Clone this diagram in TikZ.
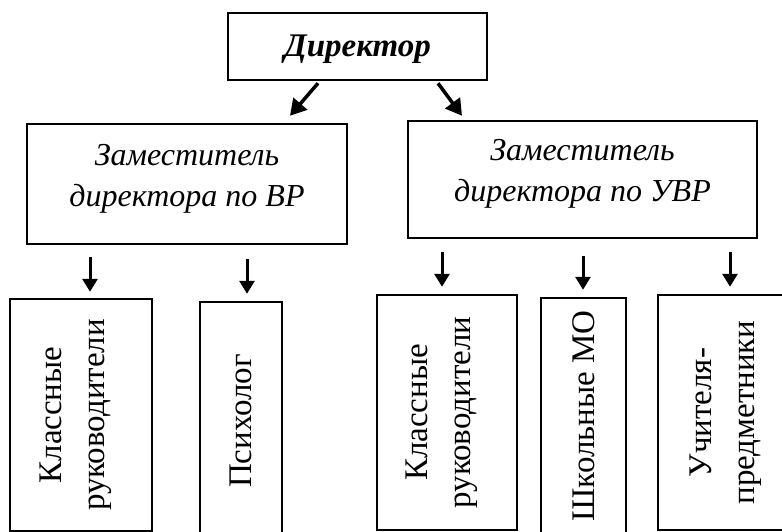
\documentclass[tikz,border=0pt]{standalone}
\usepackage{fontspec}
\setmainfont{Liberation Serif}
\usetikzlibrary{arrows.meta,calc}
\begin{document}
\begin{tikzpicture}[x=1pt,y=-1pt,
  box/.style={draw,line width=2.5pt,inner sep=0pt,align=center},
  dep/.style={box,font=\fontsize{32}{41}\selectfont\itshape},
  sub/.style={box,rotate=90,font=\fontsize{33}{43}\selectfont},
  arr/.style={line width=3pt,-{Triangle[length=13pt,width=15pt]}},
  darr/.style={line width=3.5pt,-{Triangle[length=16pt,width=18pt]}}]
\useasboundingbox (0,0) rectangle (782,532);
\clip (0,0) rectangle (782,532);
\node[box,minimum width=259pt,minimum height=67pt,font=\fontsize{33}{38}\selectfont\bfseries\itshape] (dir) at (357.5,46.5) {\rule{0pt}{28pt}Директор};
\node[dep,minimum width=320pt,minimum height=120pt] (vr) at (187,184) {Заместитель\\директора по ВР\rule[-18pt]{0pt}{18pt}};
\node[dep,minimum width=349pt,minimum height=117pt] (uvr) at (582.5,179.5) {Заместитель\\директора по УВР\rule[-18pt]{0pt}{18pt}};
\node[sub,minimum width=232pt,minimum height=142pt] (b1) at (81,415) {Классные\\руководители\rule[-17pt]{0pt}{17pt}};
\node[sub,minimum width=238pt,minimum height=82pt] (b2) at (241,421) {Психолог};
\node[sub,minimum width=235pt,minimum height=140pt] (b3) at (447,412.5) {Классные\\руководители\rule[-17pt]{0pt}{17pt}};
\node[sub,minimum width=236pt,minimum height=85pt] (b4) at (583.5,416) {Школьные МО};
\node[sub,minimum width=235pt,minimum height=145pt] (b5) at (730.5,412.5) {Учителя-\\предметники\rule[-17pt]{0pt}{17pt}};
\draw[darr] ([xshift=-39.5pt,yshift=-2pt]dir.south) -- ([xshift=103pt,yshift=7pt]vr.north);
\draw[darr] ([xshift=80.5pt,yshift=-2pt]dir.south) -- ([xshift=-120.5pt,yshift=4pt]uvr.north);
\draw[arr] ($(b1.east)+(9,-41)$) -- ($(b1.east)+(9,-6)$);
\draw[arr] ($(b2.east)+(6,-42)$) -- ($(b2.east)+(6,-7)$);
\draw[arr] ($(b3.east)+(-5,-42)$) -- ($(b3.east)+(-5,-7)$);
\draw[arr] ($(b4.east)+(-0.5,-41)$) -- ($(b4.east)+(-0.5,-7)$);
\draw[arr] ($(b5.east)+(-0.5,-42)$) -- ($(b5.east)+(-0.5,-7)$);
\end{tikzpicture}
\end{document}
